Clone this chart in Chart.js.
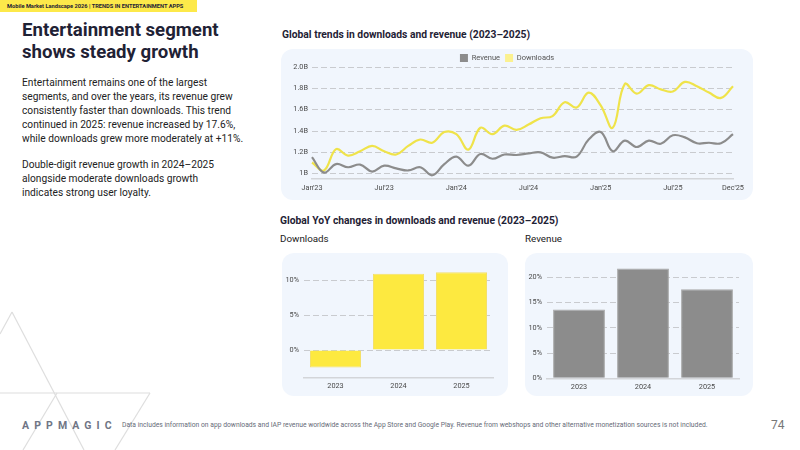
<!DOCTYPE html>
<html>
<head>
<meta charset="utf-8">
<script src="https://cdn.jsdelivr.net/npm/chart.js@4.4.1/dist/chart.umd.min.js"></script>
<style>
    body { margin: 0; width: 800px; height: 450px; background: #fff; overflow: hidden; position: relative; font-family: Roboto, sans-serif; }
    .abs { position: absolute; }
    .banner { left: 0; top: 0; width: 197px; height: 12px; background: #fde94a; font-size: 5.7px; font-weight: 700; color: #1f2235; line-height: 12px; padding-left: 7px; box-sizing: border-box; white-space: nowrap; }
    .title { left: 22px; top: 20px; font-size: 18.6px; font-weight: 700; line-height: 21.5px; color: #1f2235; }
    .para { left: 22px; font-size: 10.2px; line-height: 14px; color: #222; }
    .h2 { font-size: 10.3px; font-weight: 700; color: #1f2235; white-space: nowrap; }
    .h3 { font-size: 9.8px; color: #222; }
    .card { background: #f1f6fd; border-radius: 12px; }
    .logo { left: 22px; top: 419px; font-size: 10.5px; font-weight: 700; letter-spacing: 5.1px; color: #6f7585; }
    .note { left: 122px; top: 421px; font-size: 6.75px; color: #666b78; white-space: nowrap; }
    .page { left: 771px; top: 418px; font-size: 12px; color: #777; }
    svg.deco { position: absolute; left: 0; top: 0; }
</style>
</head>
<body>
<svg class="deco" width="800" height="450">
    <g stroke="#dedede" stroke-width="1.2" fill="none">
        <line x1="0" y1="334" x2="12" y2="312"/>
        <line x1="12" y1="312" x2="84" y2="450"/>
        <line x1="0" y1="393" x2="150" y2="393"/>
        <line x1="150" y1="393" x2="115" y2="450"/>
        <line x1="57" y1="393" x2="23" y2="450"/>
    </g>
</svg>

<div class="abs banner">Mobile Market Landscape 2026 | TRENDS IN ENTERTAINMENT APPS</div>
<div class="abs title">Entertainment segment<br>shows steady growth</div>
<div class="abs para" style="top:76px">Entertainment remains one of the largest<br>segments, and over the years, its revenue grew<br>consistently faster than downloads. This trend<br>continued in 2025: revenue increased by 17.6%,<br>while downloads grew more moderately at +11%.</div>
<div class="abs para" style="top:158px">Double-digit revenue growth in 2024–2025<br>alongside moderate downloads growth<br>indicates strong user loyalty.</div>

<div class="abs h2" style="left:282px;top:28px">Global trends in downloads and revenue (2023–2025)</div>
<div class="abs card" style="left:281px;top:49px;width:472px;height:151px"><canvas id="trendChart"></canvas></div>

<div class="abs h2" style="left:280px;top:214px">Global YoY changes in downloads and revenue (2023–2025)</div>
<div class="abs h3" style="left:280px;top:233px">Downloads</div>
<div class="abs h3" style="left:525px;top:233px">Revenue</div>
<div class="abs card" style="left:282px;top:253px;width:226px;height:143px"><canvas id="dlChart"></canvas></div>
<div class="abs card" style="left:525px;top:253px;width:228px;height:143px"><canvas id="revChart"></canvas></div>

<div class="abs logo">APPMAGIC</div>
<div class="abs note">Data includes information on app downloads and IAP revenue worldwide across the App Store and Google Play. Revenue from webshops and other alternative monetization sources is not included.</div>
<div class="abs page">74</div>

<script>
// Datos
const months = [
    "Jan'23", "Feb'23", "Mar'23", "Apr'23", "May'23", "Jun'23", "Jul'23", "Aug'23", "Sep'23", "Oct'23", "Nov'23", "Dec'23",
    "Jan'24", "Feb'24", "Mar'24", "Apr'24", "May'24", "Jun'24", "Jul'24", "Aug'24", "Sep'24", "Oct'24", "Nov'24", "Dec'24",
    "Jan'25", "Feb'25", "Mar'25", "Apr'25", "May'25", "Jun'25", "Jul'25", "Aug'25", "Sep'25", "Oct'25", "Nov'25", "Dec'25"
];
const revenue = [
    1.155, 1.01, 1.09, 1.06, 1.085, 1.02, 1.075, 1.05, 1.03, 1.06, 0.985, 1.09,
    1.16, 1.075, 1.185, 1.14, 1.18, 1.175, 1.19, 1.20, 1.15, 1.165, 1.16, 1.32,
    1.39, 1.21, 1.31, 1.25, 1.31, 1.28, 1.36, 1.34, 1.285, 1.29, 1.285, 1.37
];
const downloads = [
    1.105, 1.03, 1.23, 1.17, 1.21, 1.26, 1.21, 1.18, 1.26, 1.32, 1.29, 1.39,
    1.37, 1.225, 1.43, 1.37, 1.45, 1.41, 1.46, 1.52, 1.54, 1.67, 1.62, 1.76,
    1.64, 1.43, 1.84, 1.75, 1.83, 1.79, 1.77, 1.86, 1.82, 1.76, 1.71, 1.82
];
const monthTickLabels = ["Jan'23", "Jul'23", "Jan'24", "Jul'24", "Jan'25", "Jul'25", "Dec'25"];
const billionTicks = [1, 1.2, 1.4, 1.6, 1.8, 2.0];
const billionTickLabels = ['1B', '1.2B', '1.4B', '1.6B', '1.8B', '2.0B'];

const years = ['2023', '2024', '2025'];
const yoyDownloads = [-2.5, 10.9, 11.1];
const yoyRevenue = [13.6, 21.7, 17.6];
const dlPctTicks = [0, 5, 10];
const revPctTicks = [0, 5, 10, 15, 20];

// Colores
const YELLOW_LINE = '#efe34a';
const YELLOW_BOX = '#fbf190';
const YELLOW_BAR = '#fde940';
const GREY = '#8c8c8c';
const GRID = '#c9cbcf';
const TICK = '#4a4a4a';

Chart.defaults.font.family = 'Roboto, sans-serif';
Chart.defaults.animation = false;
Chart.defaults.responsive = true;
Chart.defaults.maintainAspectRatio = false;

// Altura fija de la leyenda
const legendHeight = {
    id: 'legendHeight',
    beforeInit(chart) {
        const fit = chart.legend.fit;
        chart.legend.fit = function() {
            fit.call(this);
            this.height = 18;
        };
    }
};

new Chart(document.getElementById('trendChart'), {
    type: 'line',
    data: {
        labels: months,
        datasets: [{
            label: 'Revenue',
            data: revenue,
            borderColor: GREY,
            backgroundColor: GREY,
            borderWidth: 2.2,
            pointRadius: 0,
            tension: 0.4
        }, {
            label: 'Downloads',
            data: downloads,
            borderColor: YELLOW_LINE,
            backgroundColor: YELLOW_BOX,
            borderWidth: 2.2,
            pointRadius: 0,
            tension: 0.4
        }]
    },
    options: {
        layout: { padding: { right: 20 } },
        plugins: {
            legend: {
                labels: {
                    boxWidth: 8,
                    boxHeight: 8,
                    padding: 5,
                    color: '#555',
                    font: { size: 7.5 },
                    generateLabels(chart) {
                        return chart.data.datasets.map((ds, i) => ({
                            text: ds.label,
                            fillStyle: ds.backgroundColor,
                            strokeStyle: ds.backgroundColor,
                            lineWidth: 0,
                            datasetIndex: i,
                            fontColor: '#555'
                        }));
                    }
                }
            },
            tooltip: { enabled: false }
        },
        scales: {
            x: {
                grid: { display: false, drawTicks: false },
                border: { color: '#d3d5d9', width: 1.5 },
                afterFit(scale) { scale.height = 21; },
                ticks: {
                    autoSkip: false,
                    maxRotation: 0,
                    padding: 5,
                    color: TICK,
                    font: { size: 7.3 },
                    callback: function(value, index) {
                        const lbl = months[index];
                        return monthTickLabels.includes(lbl) ? lbl : null;
                    }
                }
            },
            y: {
                min: 0.95,
                max: 2.0,
                afterBuildTicks(scale) { scale.ticks = billionTicks.map(v => ({ value: v })); },
                afterFit(scale) { scale.width = 31; },
                border: { display: false, dash: [6, 3] },
                grid: { color: GRID, drawTicks: false, lineWidth: 1 },
                ticks: {
                    padding: 4,
                    color: TICK,
                    font: { size: 7.3 },
                    callback: function(value, index) { return billionTickLabels[index]; }
                }
            }
        }
    },
    plugins: [legendHeight]
});

function yoyChart(id, values, color, border, min, max, ticks, pad) {
    new Chart(document.getElementById(id), {
        type: 'bar',
        data: {
            labels: years,
            datasets: [{
                data: values,
                backgroundColor: color,
                borderColor: border,
                borderWidth: 1,
                barPercentage: 0.9,
                categoryPercentage: 0.9
            }]
        },
        options: {
            layout: { padding: pad },
            plugins: { legend: { display: false }, tooltip: { enabled: false } },
            scales: {
                x: {
                    grid: { display: false, drawTicks: false },
                    border: { color: '#d3d5d9', width: 1.5 },
                    afterFit(scale) { scale.height = pad.xh; },
                    ticks: { padding: 4, color: TICK, font: { size: 7.3 } }
                },
                y: {
                    min: min,
                    max: max,
                    afterBuildTicks(scale) { scale.ticks = ticks.map(v => ({ value: v })); },
                    afterFit(scale) { scale.width = pad.yw; },
                    border: { display: false, dash: [6, 3] },
                    grid: { color: GRID, drawTicks: false },
                    ticks: {
                        padding: 5,
                        color: TICK,
                        font: { size: 7.3 },
                        callback: function(value) { return value + '%'; }
                    }
                }
            }
        }
    });
}

yoyChart('dlChart', yoyDownloads, YELLOW_BAR, '#f3e06a', -4, 12, dlPctTicks,
    { top: 13, right: 15, yw: 22, xh: 18 });
yoyChart('revChart', yoyRevenue, GREY, '#a8a8a8', 0, 22, revPctTicks,
    { top: 14, right: 14, yw: 22, xh: 17.7 });
</script>
</body>
</html>
